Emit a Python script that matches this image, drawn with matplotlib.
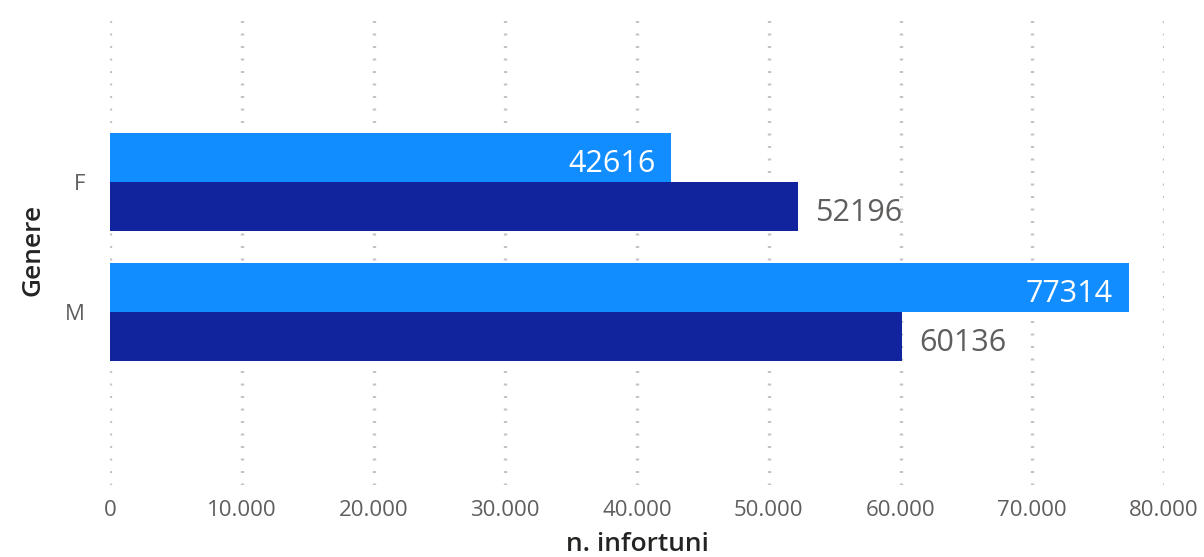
import numpy as np
import matplotlib.pyplot as plt
from matplotlib.ticker import FuncFormatter

plt.rcParams['font.family'] = ['Open Sans', 'DejaVu Sans']
plt.rcParams['lines.scale_dashes'] = False

categories = ['F', 'M']
serie_chiara = [42616, 77314]
serie_scura = [52196, 60136]
x_ticks = [0, 10000, 20000, 30000, 40000, 50000, 60000, 70000, 80000]

col_chiaro = '#118DFF'
col_scuro = '#12239E'

fig = plt.figure(figsize=(12.04, 5.57), dpi=100)
ax = fig.add_axes([110 / 1204, 1 - 485 / 557, 1054 / 1204, 470 / 557])

y = np.arange(len(categories))
h = 0.38
b1 = ax.barh(y - h / 2, serie_chiara, height=h, color=col_chiaro, zorder=3)
b2 = ax.barh(y + h / 2, serie_scura, height=h, color=col_scuro, zorder=3)

for rect, v in zip(b1, serie_chiara):
    ax.annotate(str(v), (v, rect.get_y() + rect.get_height() / 2),
                xytext=(-16, -3), textcoords='offset pixels',
                ha='right', va='center_baseline', fontsize=22, color='white', zorder=4)
for rect, v in zip(b2, serie_scura):
    ax.annotate(str(v), (v, rect.get_y() + rect.get_height() / 2),
                xytext=(17, -3), textcoords='offset pixels',
                ha='left', va='center_baseline', fontsize=22, color='#605E5C', zorder=4)

ax.set_xlim(0, 80000)
ax.set_ylim(2.33, -1.285)
ax.set_yticks(y)
ax.set_yticklabels(categories)
ax.set_xticks(x_ticks)
ax.xaxis.set_major_formatter(FuncFormatter(lambda v, p: f'{int(v):,}'.replace(',', '.')))
ax.tick_params(axis='both', length=0, labelsize=16, labelcolor='#605E5C')
ax.tick_params(axis='x', pad=11)
ax.tick_params(axis='y', pad=18)

ax.grid(axis='x', color='#C2C2C2', linestyle=(0, (1.4, 7.6)), linewidth=2.4, zorder=0)
for s in ax.spines.values():
    s.set_visible(False)

ax.set_xlabel('n. infortuni', fontsize=19, fontweight='semibold', color='#252423', labelpad=8)
ax.set_ylabel('Genere', fontsize=19, fontweight='semibold', color='#252423', labelpad=14)

fig.savefig('out.png', dpi=100)
